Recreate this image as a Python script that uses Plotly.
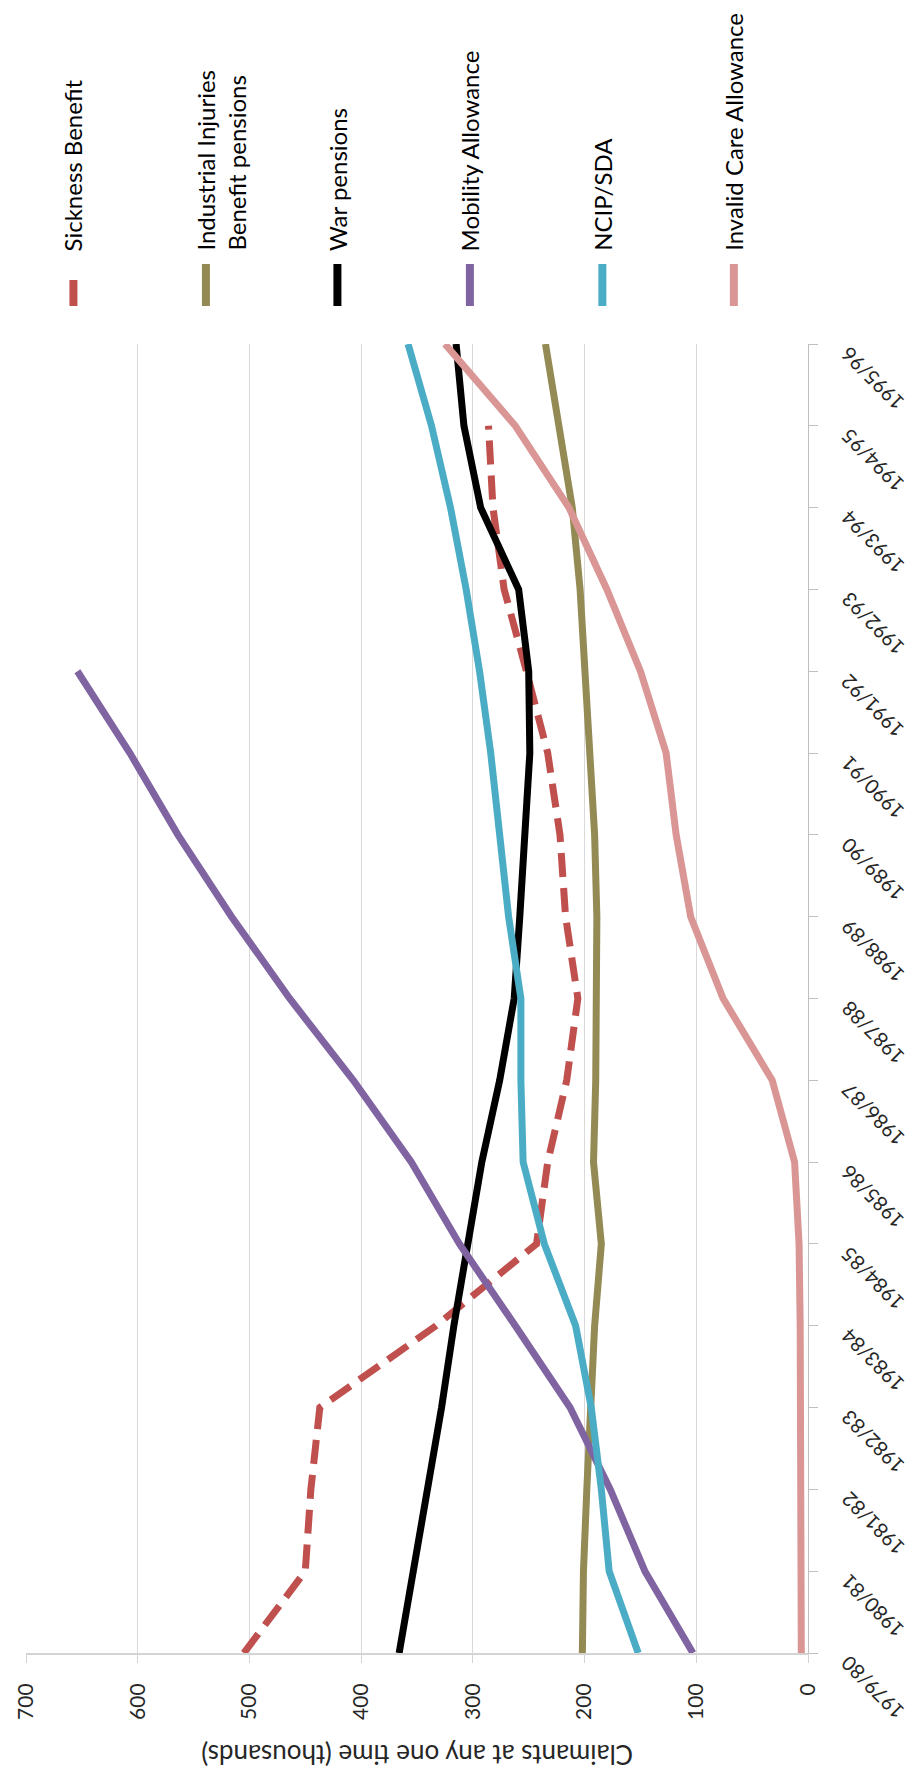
import plotly.graph_objects as go

years = ["1979/80", "1980/81", "1981/82", "1982/83", "1983/84", "1984/85", "1985/86",
         "1986/87", "1987/88", "1988/89", "1989/90", "1990/91", "1991/92", "1992/93",
         "1993/94", "1994/95", "1995/96"]

sickness = [505, 450, 445, 437, 333, 243, 233, 216, 206, 217, 222, 233, 252, 272, 282, 286, None]
industrial = [202, 201, 198, 195, 191, 185, 192, 190, 189, 189, 191, 195, 199, 204, 211, 223, 235]
war = [366, 353, 340, 328, 317, 305, 292, 276, 263, 258, 253, 249, 250, 259, 293, 308, 315]
mobility = [103, 146, 177, 213, 262, 312, 355, 407, 464, 516, 564, 607, 654, None, None, None, None]
ncip = [152, 178, 185, 194, 208, 236, 255, 257, 257, 268, 276, 284, 294, 306, 320, 337, 358]
invalid_care = [6, 6, 6, 7, 7, 8, 12, 32, 76, 105, 118, 127, 150, 180, 214, 262, 325]

series_names = ["Sickness Benefit", "Industrial Injuries<br>Benefit pensions", "War pensions",
                "Mobility Allowance", "NCIP/SDA", "Invalid Care Allowance"]
series_values = [sickness, industrial, war, mobility, ncip, invalid_care]
series_colors = ["#C0504D", "#948A54", "#000000", "#8064A2", "#4BACC6", "#D99694"]
series_dash = ["24px,11px", "solid", "solid", "solid", "solid", "solid"]

value_ticks = [0, 100, 200, 300, 400, 500, 600, 700]
axis_title = "Claimants at any one time (thousands)"

W, H = 913, 1776
PL, PR, PT, PB = 17, 808, 344, 1653
FONT = "Lato, 'Open Sans', sans-serif"


def px2x(px):
    return (px - PL) / (PR - PL)


def py2y(py):
    return (PB - py) / (PB - PT)


fig = go.Figure()
for name, vals, col, dash in zip(series_names, series_values, series_colors, series_dash):
    fig.add_trace(go.Scatter(
        x=vals, y=years, mode="lines", name=name.replace("<br>", " "),
        line=dict(color=col, width=7, dash=dash),
        connectgaps=False, showlegend=False, hoverinfo="skip"))

annotations = []
shapes = []

# rotated category labels
for yr in years:
    annotations.append(dict(
        text=yr, x=px2x(833), xref="paper", y=yr, yref="y",
        xanchor="left", yanchor="top", yshift=5, textangle=-135,
        showarrow=False, font=dict(family=FONT, size=20, color="#262626")))

# axis title (upside down)
annotations.append(dict(
    text=axis_title, x=0.5, xref="paper", y=py2y(1755), yref="paper",
    xanchor="center", yanchor="middle", textangle=180, showarrow=False,
    font=dict(family=FONT, size=26, color="#262626")))

# legend (rotated)
leg_x = [65, 199, 332, 466, 600, 733]
for i, (name, col) in enumerate(zip(series_names, series_colors)):
    cx = leg_x[i]
    if "<br>" in name:
        annotations.append(dict(
            text=name, x=px2x(cx - 17), xref="paper", y=py2y(253), yref="paper",
            xanchor="left", yanchor="bottom", textangle=-90, align="left",
            showarrow=False, font=dict(family=FONT, size=24, color="#000000")))
    else:
        annotations.append(dict(
            text=name, x=px2x(cx), xref="paper", y=py2y(253), yref="paper",
            xanchor="center", yanchor="bottom", textangle=-90,
            showarrow=False, font=dict(family=FONT, size=24, color="#000000")))
    top = 280 if i == 0 else 264
    shapes.append(dict(
        type="line", xref="paper", yref="paper",
        x0=px2x(cx), x1=px2x(cx), y0=py2y(top), y1=py2y(306),
        line=dict(color=col, width=8)))

fig.update_layout(
    width=W, height=H,
    margin=dict(l=PL, r=W - PR, t=PT, b=H - PB, pad=0),
    paper_bgcolor="white", plot_bgcolor="white",
    annotations=annotations, shapes=shapes,
    showlegend=False,
    xaxis=dict(
        range=[700, 0], tickvals=value_ticks, ticktext=[str(v) for v in value_ticks],
        tickangle=-90, showgrid=True, gridcolor="#d9d9d9", gridwidth=1,
        zeroline=False, showline=True, linecolor="#d4d4d4", linewidth=2,
        ticks="outside", ticklen=8, tickcolor="#d4d4d4", tickwidth=1,
        tickfont=dict(family=FONT, size=21, color="#262626"),
        ticklabelstandoff=12, fixedrange=True),
    yaxis=dict(
        type="category", categoryorder="array", categoryarray=years,
        range=[0, len(years) - 1], side="right", showticklabels=False,
        showgrid=False, zeroline=False, showline=True, linecolor="#bfbfbf",
        linewidth=1, ticks="outside", ticklen=9, tickcolor="#bfbfbf",
        fixedrange=True),
)

fig.write_html("out.html")
